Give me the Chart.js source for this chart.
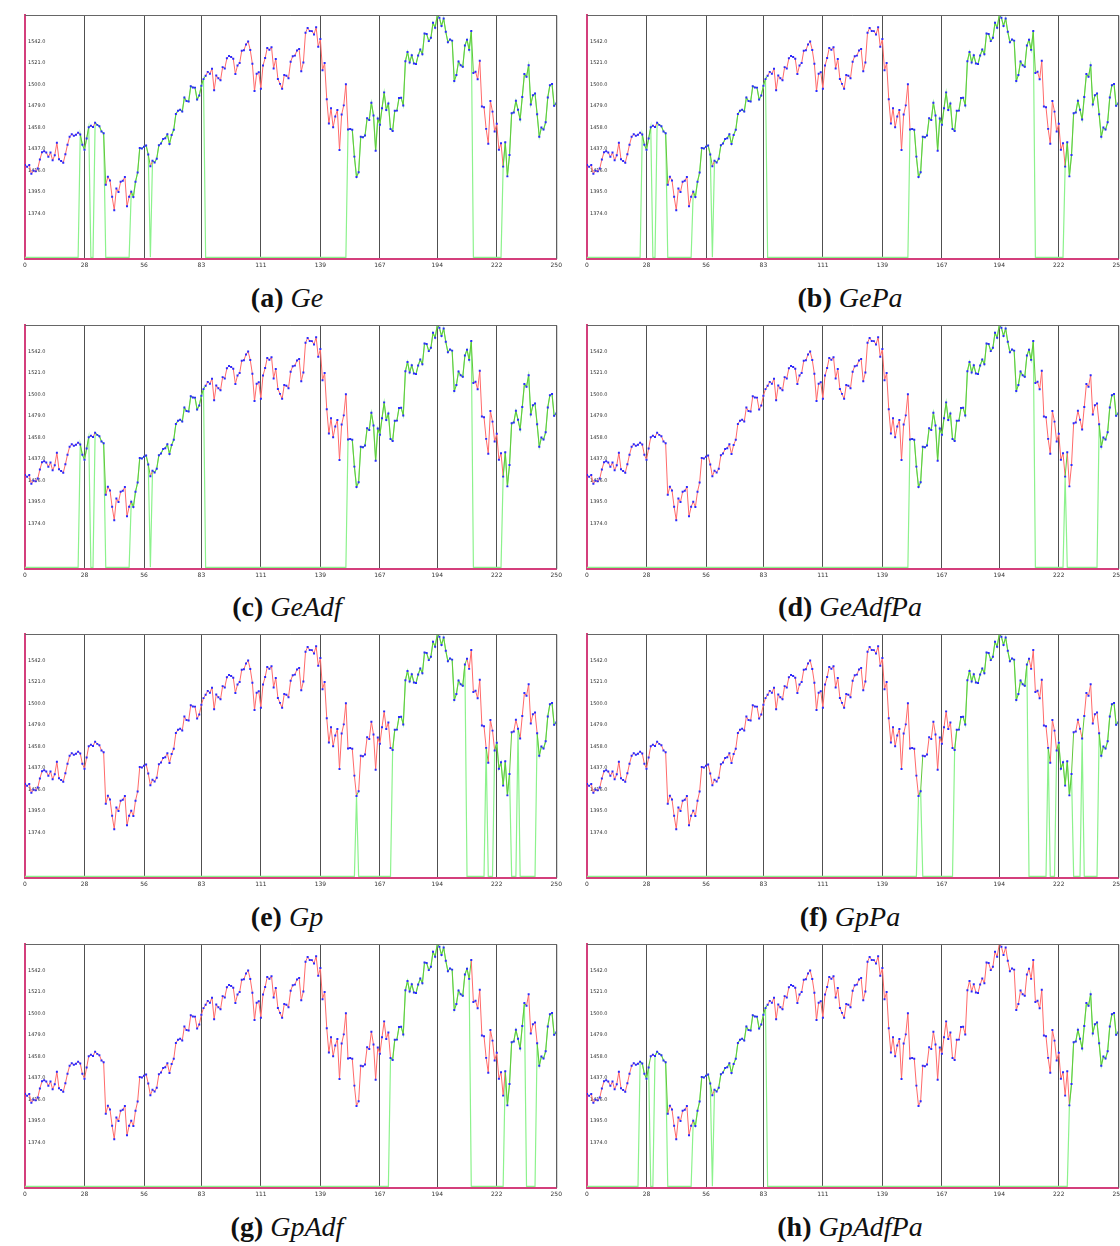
<!DOCTYPE html>
<html>
<head>
<meta charset="utf-8">
<script src="https://cdn.jsdelivr.net/npm/chart.js@4.4.1/dist/chart.umd.min.js"></script>
<style>
  body { margin: 0; background: #fff; width: 1120px; height: 1246px; overflow: hidden; position: relative; }
  canvas { position: absolute; }
  .cap { position: absolute; width: 400px; text-align: center; font-family: "Liberation Serif", serif;
         font-size: 28px; line-height: 30px; color: #111; }
  .cap b { font-weight: bold; }
  .cap i { font-style: italic; }
</style>
</head>
<body>
<script>
// x axis ticks and y axis ticks
const xTicks = [0, 28, 56, 83, 111, 139, 167, 194, 222, 250];
const yTicks = [1374, 1395, 1416, 1437, 1458, 1479, 1500, 1521, 1542];
const yMin = 1326.36, yMax = 1565.15;
const sigLow = 1328;   // level of the signal line when out of the market

// daily closes, 251 points
const prices = [
  1418.30,
  1416.60, 1418.34, 1409.71, 1412.84, 1412.11, 1414.85, 1423.82, 1430.73, 1431.90, 1430.62,
  1426.37, 1430.50, 1422.95, 1427.99, 1440.13, 1423.90, 1422.18, 1420.62, 1428.82, 1438.24,
  1445.94, 1448.39, 1446.99, 1448.00, 1450.02, 1448.31, 1438.06, 1433.37, 1444.26, 1455.30,
  1456.81, 1455.54, 1459.68, 1457.63, 1456.38, 1451.19, 1449.37, 1399.04, 1406.82,
  1403.17, 1387.17, 1374.12, 1395.41, 1391.97, 1401.89, 1402.84, 1406.60, 1377.95, 1387.17,
  1392.28, 1386.95, 1402.06, 1410.94, 1435.04, 1434.54, 1436.11, 1437.50, 1428.61, 1417.23,
  1422.53, 1420.86,
  1424.55, 1437.77, 1439.37, 1443.76, 1444.61, 1448.39, 1438.87, 1447.80, 1452.85, 1468.33,
  1471.48, 1472.50, 1470.73, 1484.35, 1480.93, 1480.41, 1495.42, 1494.25, 1494.07, 1482.37,
  1486.30, 1495.92, 1502.39, 1505.62, 1509.48, 1507.72, 1512.58, 1491.47, 1505.85, 1503.15,
  1501.19, 1514.14, 1512.75, 1522.75, 1525.10, 1524.12, 1522.28, 1507.51, 1515.73, 1518.11,
  1530.23, 1530.62,
  1536.34, 1539.18, 1530.95, 1517.38, 1490.72, 1507.67, 1509.12, 1493.00, 1515.67, 1522.97,
  1532.91, 1531.05, 1533.70, 1512.84, 1522.19, 1502.56, 1497.74, 1492.89, 1506.34, 1505.71,
  1503.35,
  1519.43, 1524.87, 1525.40, 1530.44, 1531.85, 1510.12, 1518.76, 1547.70, 1552.50, 1549.52,
  1549.37, 1546.17, 1553.08, 1534.10, 1541.57, 1511.04, 1518.09, 1482.66, 1458.95, 1473.91,
  1455.27,
  1465.81, 1472.20, 1433.06, 1467.67, 1476.71, 1497.49, 1453.09, 1453.64, 1452.92, 1426.54,
  1406.70, 1411.27, 1445.94, 1445.55, 1447.12, 1464.07, 1462.50, 1479.37, 1466.79, 1432.36,
  1463.76, 1457.64, 1473.99,
  1489.42, 1472.29, 1478.55, 1453.55, 1451.70, 1471.49, 1471.56, 1483.95, 1484.25, 1476.65,
  1519.78, 1529.03, 1518.75, 1525.75, 1517.73, 1517.21, 1525.42, 1531.38, 1526.75,
  1547.04, 1546.63, 1539.59, 1542.84, 1557.59, 1552.58, 1565.15, 1562.47, 1554.41, 1561.80,
  1548.71, 1538.53, 1541.24, 1540.08, 1500.63, 1506.33, 1519.59, 1515.88, 1514.40, 1535.28,
  1540.98, 1531.02, 1549.38,
  1508.44, 1509.65, 1502.17, 1520.27, 1475.62, 1474.77, 1453.70, 1439.18, 1481.05, 1470.58,
  1451.15, 1458.74, 1433.27, 1439.70, 1416.77, 1440.70, 1407.22, 1428.23, 1469.02, 1469.72,
  1481.14,
  1472.42, 1462.79, 1485.01, 1507.34, 1504.66, 1515.96, 1477.65, 1486.59, 1488.41, 1467.95,
  1445.90, 1454.98, 1453.00, 1460.12, 1484.46, 1496.45, 1497.66, 1476.27, 1478.49
];

// in-market periods (first index, last index) for each strategy
const inGe      = [[26, 30], [33, 37], [50, 58], [60, 84], [152, 210], [225, 250]];
const inGePa    = [[26, 30], [33, 37], [50, 58], [60, 84], [152, 210], [225, 250]];
const inGeAdf   = [[26, 30], [33, 37], [50, 58], [60, 84], [152, 210], [225, 250]];
const inGeAdfPa = [[152, 210], [225, 225], [241, 250]];
const inGp      = [[156, 156], [173, 207], [217, 217], [221, 228], [232, 232], [241, 250]];
const inGpPa    = [[156, 157], [173, 207], [217, 217], [221, 228], [233, 233], [241, 250]];
const inGpAdf   = [[172, 209], [226, 235], [241, 250]];
const inGpAdfPa = [[25, 29], [32, 37], [50, 58], [60, 84], [227, 250]];

const panels = [
  { tag: '(a)', name: 'Ge',      periods: inGe },
  { tag: '(b)', name: 'GePa',    periods: inGePa },
  { tag: '(c)', name: 'GeAdf',   periods: inGeAdf },
  { tag: '(d)', name: 'GeAdfPa', periods: inGeAdfPa },
  { tag: '(e)', name: 'Gp',      periods: inGp },
  { tag: '(f)', name: 'GpPa',    periods: inGpPa },
  { tag: '(g)', name: 'GpAdf',   periods: inGpAdf },
  { tag: '(h)', name: 'GpAdfPa', periods: inGpAdfPa }
];

const RED = '#ff6a6a', GREEN = '#62c83a', SIG = '#8cf28c', PINK = '#d43f7c';

const frame = {
  id: 'frame',
  afterDraw(chart) {
    const a = chart.chartArea, c = chart.ctx;
    c.save();
    c.strokeStyle = '#666';
    c.lineWidth = 1;
    c.beginPath();
    c.moveTo(a.left, a.top + 0.5);
    c.lineTo(a.right + 0.5, a.top + 0.5);
    c.lineTo(a.right + 0.5, a.bottom);
    c.stroke();
    c.restore();
  }
};

function drawPanel(p, idx) {
  const col = idx % 2, row = Math.floor(idx / 2);
  const left = col === 0 ? 19 : 581;
  const top = [9, 319, 628, 938][row];

  const inArr = prices.map(() => false);
  p.periods.forEach(([s, e]) => { for (let i = s; i <= e; i++) inArr[i] = true; });

  const cv = document.createElement('canvas');
  cv.width = 546; cv.height = 266;
  cv.style.left = left + 'px'; cv.style.top = top + 'px';
  document.body.appendChild(cv);

  const cap = document.createElement('div');
  cap.className = 'cap';
  cap.innerHTML = '<b>' + p.tag + '</b> <i>' + p.name + '</i>';
  cap.style.left = (col === 0 ? 287 : 850) - 200 + 'px';
  cap.style.top = [283, 592, 902, 1212][row] + 'px';
  document.body.appendChild(cap);

  new Chart(cv, {
    type: 'line',
    data: {
      datasets: [
        {
          data: prices.map((v, i) => ({ x: i, y: v })),
          borderWidth: 1,
          borderColor: RED,
          segment: { borderColor: ctx => inArr[ctx.p0DataIndex] ? GREEN : RED },
          pointRadius: 1.4,
          pointStyle: 'rect',
          pointBackgroundColor: '#2a2aff',
          pointBorderWidth: 0,
          tension: 0,
          order: 0
        },
        {
          data: prices.map((v, i) => ({ x: i, y: inArr[i] ? v : sigLow })),
          borderWidth: 1.2,
          borderColor: SIG,
          pointRadius: 0,
          tension: 0,
          order: 1
        }
      ]
    },
    options: {
      responsive: false,
      animation: false,
      layout: { padding: { left: 6, top: 5, right: 4, bottom: 3 } },
      plugins: { legend: { display: false }, tooltip: { enabled: false } },
      scales: {
        x: {
          type: 'linear', min: 0, max: 250,
          afterBuildTicks: s => { s.ticks = xTicks.map(v => ({ value: v })); },
          afterFit: s => { s.height = 13; },
          grid: { color: '#505050', lineWidth: 1, drawTicks: false },
          border: { color: PINK, width: 2 },
          ticks: { color: '#333', font: { size: 6, family: 'DejaVu Sans' }, padding: 3, maxRotation: 0 }
        },
        y: {
          min: yMin, max: yMax,
          afterBuildTicks: s => { s.ticks = yTicks.map(v => ({ value: v })); },
          afterFit: s => { s.width = 0; },
          grid: { display: false },
          border: { color: PINK, width: 2 },
          ticks: {
            mirror: true, padding: 3, labelOffset: 3,
            color: '#333', font: { size: 5, family: 'DejaVu Sans' },
            callback: v => v.toFixed(1)
          }
        }
      }
    },
    plugins: [frame]
  });
}

panels.forEach(drawPanel);
</script>
</body>
</html>
